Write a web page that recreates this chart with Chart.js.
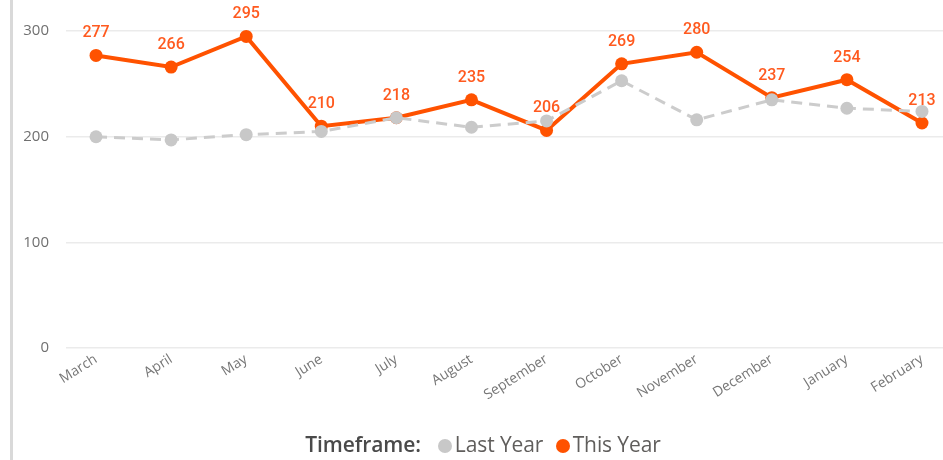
<!DOCTYPE html>
<html>
<head>
<meta charset="utf-8">
<script src="https://cdn.jsdelivr.net/npm/chart.js@4"></script>
<style>
  html, body { margin: 0; padding: 0; background: #fff; }
  #wrap { position: relative; width: 943px; height: 460px; overflow: hidden; }
  #bar { position: absolute; left: 10px; top: 0; width: 3px; height: 460px; background: #d9d9d9; }
  #c { position: absolute; left: 0; top: 0; }
  #legend { position: absolute; top: 430px; left: 0; width: 966px; text-align: center;
            font-family: "Open Sans", sans-serif; font-size: 21px; color: #605e5c; white-space: nowrap; letter-spacing: -0.1px; }
  #legend b { color: #4a4a4a; font-weight: 600; margin-right: 17px; }
  .dot { display: inline-block; width: 14px; height: 14px; border-radius: 50%; vertical-align: -1px; margin-right: 3px; }
  .dot2 { margin-left: 7px; }
</style>
</head>
<body>
<div id="wrap">
  <div id="bar"></div>
  <canvas id="c" width="943" height="460"></canvas>
  <div id="legend"><b>Timeframe:</b><span class="dot" style="background:#c8c8c8"></span>Last Year <span class="dot dot2" style="background:#ff5200"></span>This Year</div>
</div>
<script>
const months = ["March","April","May","June","July","August","September","October","November","December","January","February"];
const lastYear = [200,197,202,205,218,209,215,253,216,235,227,224];
const thisYear = [277,266,295,210,218,235,206,269,280,237,254,213];
const yTicks = [0,100,200,300];

const labelPlugin = {
  id: 'valueLabels',
  afterDatasetsDraw(chart) {
    const ctx = chart.ctx;
    const meta = chart.getDatasetMeta(1);
    ctx.save();
    ctx.font = '500 16px Roboto, sans-serif';
    ctx.fillStyle = '#ff5a1f';
    ctx.textAlign = 'center';
    ctx.textBaseline = 'bottom';
    meta.data.forEach((pt, i) => {
      ctx.fillText(String(thisYear[i]), pt.x, pt.y - 14);
    });
    ctx.restore();
  }
};

new Chart(document.getElementById('c'), {
  type: 'line',
  data: {
    datasets: [
      {
        label: 'Last Year',
        data: lastYear.map((v, i) => ({ x: i, y: v })),
        borderColor: '#cccccc',
        backgroundColor: '#c8c8c8',
        borderWidth: 3,
        borderDash: [11, 7],
        pointRadius: 6.5,
        pointBackgroundColor: '#c8c8c8',
        pointBorderWidth: 0,
        tension: 0,
        clip: false
      },
      {
        label: 'This Year',
        data: thisYear.map((v, i) => ({ x: i, y: v })),
        borderColor: '#ff5200',
        backgroundColor: '#ff5200',
        borderWidth: 4,
        pointRadius: 6.5,
        pointBackgroundColor: '#ff5200',
        pointBorderWidth: 0,
        tension: 0,
        clip: false
      }
    ]
  },
  options: {
    responsive: false,
    animation: false,
    layout: { autoPadding: false, padding: { top: 10, left: 0, right: 0, bottom: 0 } },
    plugins: { legend: { display: false }, tooltip: { enabled: false } },
    scales: {
      x: {
        type: 'linear',
        min: -0.4,
        max: 11.28,
        afterBuildTicks(axis) { axis.ticks = months.map((m, i) => ({ value: i })); },
        afterFit(scale) { scale.height = 112; scale.paddingLeft = 0; scale.paddingRight = 0; },
        grid: { display: false },
        border: { display: false },
        ticks: {
          autoSkip: false,
          minRotation: 32,
          maxRotation: 32,
          padding: -5,
          color: '#777777',
          font: { family: 'Open Sans', size: 14 },
          callback: (v) => months[v]
        }
      },
      y: {
        min: 0,
        max: 320,
        afterBuildTicks(axis) { axis.ticks = yTicks.map(v => ({ value: v })); },
        afterFit(scale) { scale.width = 66; scale.paddingTop = 0; scale.paddingBottom = 0; },
        grid: { color: '#ebebeb', lineWidth: 1.5, drawTicks: false },
        border: { display: false },
        ticks: {
          padding: 17,
          color: '#707070',
          font: { family: 'Open Sans', size: 15 }
        }
      }
    }
  },
  plugins: [labelPlugin]
});
</script>
</body>
</html>
